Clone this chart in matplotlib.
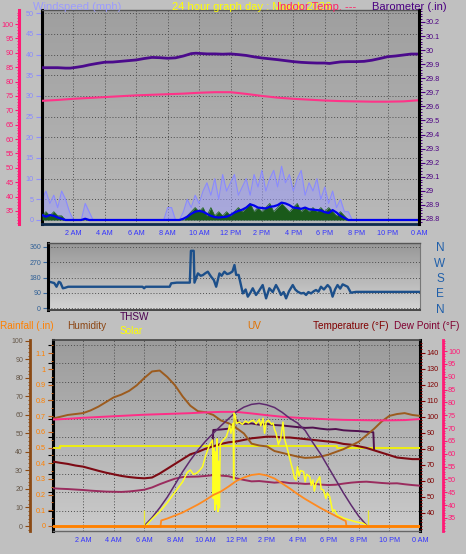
import numpy as np
import matplotlib
matplotlib.use("Agg")
import matplotlib.pyplot as plt
from matplotlib.ticker import MultipleLocator, FixedLocator, FuncFormatter
from matplotlib.colors import LinearSegmentedColormap

plt.rcParams['font.family'] = ['Liberation Sans', 'DejaVu Sans']

# ---------------- data ----------------
hour_ticks = [2, 4, 6, 8, 10, 12, 14, 16, 18, 20, 22, 24]
hour_labels = ['2 AM', '4 AM', '6 AM', '8 AM', '10 AM', '12 PM', '2 PM', '4 PM',
               '6 PM', '8 PM', '10 PM', '0 AM']

# wind (mph), every 15 minutes from 0:00 to 24:00
wind_hours = np.arange(0, 24.01, 0.25)
wind_gust = [5, 7, 4, 6, 3, 7, 5, 2, 0, 0, 0, 4, 2, 0, 0, 0, 0, 0, 0, 0,
             0, 0, 0, 0, 0, 0, 0, 0, 0, 0, 0, 0, 3, 3, 0, 0, 2, 5, 3, 6,
             4, 7, 9, 6, 10, 5, 11, 7, 9, 11, 6, 8, 10, 6, 11, 8, 12, 7, 10, 12,
             8, 13, 9, 11, 7, 10, 12, 6, 9, 7, 10, 5, 8, 4, 7, 3, 5, 2, 2, 0,
             0, 0, 0, 0, 0, 0, 0, 0, 0, 0, 0, 0, 0, 0, 0, 0, 0]
wind_speed = [1, 2, 1, 2, 1, 1, 0, 0, 0, 0, 0, 0, 0, 0, 0, 0, 0, 0, 0, 0,
              0, 0, 0, 0, 0, 0, 0, 0, 0, 0, 0, 0, 0, 0, 0, 0, 0, 1, 2, 3,
              2, 3, 1, 3, 1, 2, 1, 2, 1, 2, 3, 2, 3, 4, 2, 3, 2, 3, 4, 2,
              3, 4, 3, 2, 3, 4, 2, 3, 2, 3, 2, 3, 2, 3, 2, 1, 2, 1, 0, 0,
              0, 0, 0, 0, 0, 0, 0, 0, 0, 0, 0, 0, 0, 0, 0, 0, 0]
wind_avg = [1.2, 0.8, 1.2, 1.0, 0.6, 0.3, 0, 0, 0, 0, 0, 0.3, 0, 0, 0, 0, 0, 0, 0, 0,
            0, 0, 0, 0, 0, 0, 0, 0, 0, 0, 0, 0, 0, 0, 0, 0, 0.3, 0.8, 1.5, 2.0,
            2.2, 2.0, 1.5, 1.0, 0.7, 0.6, 0.7, 0.8, 1.2, 1.8, 2.2, 2.5, 3.0, 3.8, 3.5, 3.0,
            2.9, 2.8, 3.2, 3.3, 3.6, 4.2, 4.0, 3.6, 3.0, 2.9, 2.7, 3.0, 2.6, 2.5, 2.4, 2.3,
            1.9, 1.7, 2.4, 1.8, 1.0, 0.5, 0, 0, 0, 0, 0, 0, 0, 0, 0, 0, 0, 0,
            0, 0, 0, 0, 0, 0, 0]

baro_hours = [0, 1.0, 1.5, 1.8, 2.2, 2.6, 3.0, 3.5, 4.0, 4.5, 5.0, 5.5, 6.0, 6.5, 7.0,
              7.5, 8.0, 8.5, 9.0, 9.5, 9.8, 10.5, 11.0, 11.5, 12.0, 12.5, 13.0, 13.5,
              14.0, 14.5, 15.0, 15.5, 16.0, 16.5, 17.0, 17.5, 18.0, 18.3, 18.6, 19.0,
              19.5, 20.0, 20.5, 21.0, 21.5, 22.0, 22.5, 23.0, 23.5, 24.0]
baro_inhg = [29.875, 29.875, 29.872, 29.872, 29.878, 29.885, 29.895, 29.905, 29.914, 29.915,
             29.92, 29.925, 29.93, 29.94, 29.948, 29.946, 29.942, 29.945, 29.958, 29.975,
             29.978, 29.973, 29.973, 29.971, 29.973, 29.968, 29.962, 29.952, 29.944, 29.938,
             29.932, 29.925, 29.918, 29.913, 29.91, 29.908, 29.908, 29.905, 29.91, 29.916,
             29.918, 29.918, 29.92, 29.928, 29.94, 29.953, 29.958, 29.965, 29.972, 29.972]

indoor_hours = list(range(25))
indoor_temp = [73.3, 73.6, 74.0, 74.3, 74.6, 74.9, 75.2, 75.4, 75.6, 75.8, 76.1, 76.3, 76.3,
               75.7, 75.0, 74.4, 74.0, 73.7, 73.4, 73.2, 73.1, 73.0, 73.0, 73.1, 73.5]

dir_hours = [0, 0.1, 0.3, 0.4, 0.55, 0.7, 0.8, 0.96, 1.1, 1.3, 6.1, 6.2, 6.3, 7.85, 7.95,
             8.3, 9.15, 9.22, 9.3, 9.4, 9.45, 9.67, 9.85, 9.99, 10.15, 10.31, 10.52, 10.7,
             10.85, 11.06, 11.2, 11.38, 11.55, 11.71, 11.9, 12.03, 12.14, 12.3, 12.57, 12.75,
             12.89, 13.05, 13.21, 13.42, 13.6, 13.85, 14.07, 14.28, 14.5, 14.71, 14.87, 15.03,
             15.2, 15.36, 15.55, 15.79, 15.95, 16.11, 16.33, 16.5, 16.65, 16.8, 16.97, 17.15,
             17.29, 17.45, 17.61, 17.8, 18.04, 18.2, 18.36, 18.52, 18.68, 18.85, 19.01, 19.33,
             19.54, 19.87, 24]
dir_deg = [150, 155, 150, 148, 126, 155, 150, 117, 120, 126, 126, 117, 126, 126, 146,
           150, 150, 336, 336, 336, 150, 204, 190, 194, 205, 214, 185, 165,
           126, 204, 190, 214, 200, 204, 215, 253, 195, 195, 87, 110,
           68, 90, 117, 78, 100, 136, 58, 117, 95, 136, 110, 78,
           95, 58, 100, 136, 110, 97, 87, 90, 78, 95, 87, 100,
           107, 97, 126, 110, 136, 120, 68, 110, 136, 115, 140, 126,
           91, 96, 96]
dir_ticks = [0, 90, 180, 270, 360]
dir_names = ['N', 'E', 'S', 'W', 'N']

half_hours = np.arange(0, 24.01, 0.5)
humidity = [58, 59, 60, 60.5, 61, 62.5, 64.5, 67, 69.5, 71,
            73, 76, 80, 83.5, 84, 80.5, 76, 70, 65, 62,
            61.5, 60, 57, 55.5, 53, 50, 44.5, 43.5, 43, 40.5,
            39.5, 38.5, 37.5, 36.8, 37, 37.5, 38.5, 40, 41.5, 43.5,
            45.5, 49, 52.5, 56.5, 59.5, 60.5, 61, 60, 59.5]
temperature = [72, 71.2, 70.5, 69.5, 68.8, 67.5, 66.2, 65, 64, 63,
               62.3, 61.8, 61.5, 62, 64.5, 67.5, 70.5, 73.5, 76.5, 78,
               80, 81.5, 83, 84, 84.5, 85.5, 86.5, 87, 87.5, 87.5,
               87, 87, 86.5, 86, 85.5, 85, 84.5, 84, 83, 82.5,
               81.5, 80.5, 79, 77.5, 76, 74.5, 74, 73.5, 73.5]
dew_point = [55.3, 55, 54.8, 54.5, 54.2, 53.8, 53.5, 53.2, 53.1, 53,
             53.3, 53.8, 54.4, 55.8, 57.8, 59.6, 61.3, 62.3, 62.5, 62.6,
             63, 63.5, 63.2, 62.8, 61.5, 60.5, 59.6, 59.8, 59.3, 58.8,
             59.2, 58.5, 58.4, 58, 58.2, 57.6, 57.3, 57.5, 58.2, 58.8,
             59.2, 59.4, 59, 58.6, 58.3, 58.4, 57.8, 57.3, 56.9]

thsw_hours = [10.45, 10.5, 11.0, 11.5, 11.85, 11.9, 12.2, 12.5, 13.0, 13.5, 14.0, 14.5, 15.0,
              15.5, 16.0, 16.5, 17.0, 17.5, 18.0, 18.5, 19.0, 19.5, 20.0, 20.5, 20.95, 21.0]
thsw_f = [81.5, 91.7, 92.0, 92.5, 93.0, 99.0, 96.0, 95.5, 95.8, 95.0, 95.5, 94.8, 94.5,
          94.0, 93.5, 93.0, 93.2, 92.5, 92.0, 92.3, 91.5, 91.2, 91.0, 90.6, 90.3, 79.5]

ref_hours = [0, 0.5, 0.5, 18.6, 18.6, 24]
ref_vals = [80.3, 80.3, 81.9, 81.9, 80.4, 80.4]

solar_hours = [0, 5.9, 6.1, 6.5, 7.0, 7.5, 8.0, 8.5, 8.8, 9.0,
               9.2, 9.4, 9.6, 9.8, 10.0, 10.25, 10.45, 10.5, 10.55, 10.6,
               10.65, 10.7, 10.75, 10.8, 10.85, 10.9, 10.95, 11.1, 11.35, 11.5,
               11.57, 11.65, 11.75, 11.8, 11.83, 11.86, 11.95, 12.0, 12.2, 12.4,
               12.6, 12.8, 12.9, 13.1, 13.3, 13.5, 13.6, 13.75, 13.85, 13.95,
               14.1, 14.3, 14.4, 14.5, 14.6, 14.75, 14.9, 15.05, 15.15, 15.3,
               15.45, 15.6, 15.7, 15.8, 15.9, 16.0, 16.1, 16.2, 16.4, 16.5,
               16.6, 16.8, 16.9, 17.0, 17.1, 17.2, 17.45, 17.55, 17.7, 17.85,
               17.95, 18.1, 18.2, 18.3, 18.4, 18.6, 18.8, 19.0, 19.4, 19.8,
               20.3, 20.6, 24]
solar_wm2 = [0, 0, 5, 40, 80, 128, 185, 240, 290, 303,
             280, 285, 300, 321, 380, 437, 464, 150, 420, 88,
             400, 120, 470, 80, 350, 100, 440, 460, 481, 520,
             544, 500, 540, 553, 249, 608, 590, 553, 560, 548,
             565, 555, 562, 570, 550, 575, 540, 580, 500, 560,
             570, 548, 555, 520, 500, 440, 470, 560, 470, 428,
             380, 330, 300, 260, 249, 320, 270, 300, 294, 240,
             280, 267, 220, 250, 190, 230, 267, 200, 196, 150,
             180, 160, 120, 79, 90, 60, 53, 45, 35, 25,
             17, 0, 0]
maxsolar_hours = [5.95, 6.5, 7.0, 7.5, 8.0, 8.5, 9.0, 9.5, 10.0, 10.5, 11.0, 11.5, 12.0,
                  12.5, 13.0, 13.5, 14.0, 14.5, 15.0, 15.5, 16.0, 16.5, 17.0, 17.5, 18.0,
                  18.5, 19.0, 19.5, 20.0, 20.5, 20.6]
maxsolar_wm2 = [0, 48, 100, 158, 225, 294, 355, 410, 458, 500, 540, 578, 615,
                640, 655, 660, 652, 638, 612, 580, 555, 515, 450, 390, 320,
                250, 180, 115, 55, 8, 0]
sun_hours = [5.95, 20.6]
sun_mark = [88, 88]

uv_hours = [0, 7.05, 7.1, 7.5, 8.0, 8.5, 9.0, 9.5, 10.0, 10.5, 11.0, 11.5, 12.0, 12.5, 13.0,
            13.5, 14.0, 14.5, 15.0, 15.5, 16.0, 16.5, 17.0, 17.5, 18.0, 18.5, 19.0, 19.15, 19.2, 24]
uv_index = [0, 0, 1.2, 1.6, 2.2, 2.8, 3.6, 4.4, 5.3, 6.3, 7.0, 8.0, 9.1, 9.8, 10.3,
            10.5, 10.2, 9.6, 8.6, 7.6, 6.5, 5.5, 4.6, 3.7, 2.9, 2.1, 1.3, 1.1, 0, 0]

rain_hours = [0, 24]
rain_in = [0, 0]

temp_ticks = [40, 50, 60, 70, 80, 90, 100, 110, 120, 130, 140]
indoor_ticks = [35, 40, 45, 50, 55, 60, 65, 70, 75, 80, 85, 90, 95, 100]

# ---------------- layout helpers ----------------
W, H = 466, 554
fig = plt.figure(figsize=(W / 100, H / 100), dpi=100)
fig.patch.set_facecolor('#c0c0c0')


def rect(x0, y0, x1, y1):
    return [x0 / W, 1 - y1 / H, (x1 - x0) / W, (y1 - y0) / H]


def pt(p):
    return p * 0.72


def gradient(ax, top, bottom):
    cmap = LinearSegmentedColormap.from_list('g', [bottom, top])
    grad = np.linspace(0, 1, 256).reshape(-1, 1)
    ax.imshow(grad, extent=[0, 1, 0, 1], transform=ax.transAxes, origin='lower',
              aspect='auto', cmap=cmap, zorder=0, interpolation='bilinear')


def only_spines(ax, keep=()):
    for k, s in ax.spines.items():
        s.set_visible(k in keep)


def fmt_g(v, p):
    s = f'{v:.1f}'
    return s[:-2] if s.endswith('.0') else s


GRID = dict(color='#4d4d4d', linestyle=(0, (1, 2)), linewidth=0.7)
TICK_FS = 5.2

# ---------------- panel 1 : wind / barometer / indoor temp ----------------
ax1 = fig.add_axes(rect(42, 10, 419, 224))
gradient(ax1, '#9f9f9f', '#b9b9b9')
ax1.set_xlim(0, 24)
ax1.set_ylim(-0.97, 50.8)
ax1.set_axisbelow(True)
ax1.xaxis.set_major_locator(FixedLocator(hour_ticks))
ax1.set_xticklabels(hour_labels)
ax1.tick_params(axis='x', length=0, pad=pt(6), labelsize=TICK_FS, labelcolor='#3333ff')
ax1.yaxis.set_major_locator(MultipleLocator(5))
ax1.tick_params(axis='y', length=pt(6), width=0.8, color='#9090ff', labelcolor='#8888ff',
                labelsize=TICK_FS, pad=pt(2))
ax1.grid(True, **GRID)
ax1.spines['left'].set(color='black', linewidth=2.2)
ax1.spines['right'].set_visible(False)
ax1.spines['top'].set(color='#555555', linewidth=1)
ax1.spines['bottom'].set(color='#0d2a4d', linewidth=2)

ax1.fill_between(wind_hours, 0, wind_gust, color='#9a9aff', alpha=0.5, lw=0, zorder=2)
ax1.plot(wind_hours, wind_gust, color='#8a8aff', lw=0.8, zorder=2)
ax1.fill_between(wind_hours, 0, wind_speed, color='#1a5a1a', lw=0, zorder=3)
ax1.plot(wind_hours, wind_speed, color='#2a6a2a', lw=0.6, zorder=3)
ax1.plot(wind_hours, wind_avg, color='#0000ee', lw=1.6, zorder=4)

axp = ax1.twinx()
axp.set_ylim(30.48, 104.87)
only_spines(axp, ('left',))
axp.spines['left'].set_position(('axes', -23 / 377))
axp.spines['left'].set(color='#ff1a75', linewidth=2.2)
axp.yaxis.set_ticks_position('left')
axp.yaxis.set_label_position('left')
axp.yaxis.set_major_locator(MultipleLocator(5))
axp.yaxis.set_minor_locator(MultipleLocator(1))
axp.tick_params(which='major', length=pt(4), width=0.8, color='#ff1a75', labelcolor='#ff1a75',
                labelsize=TICK_FS, pad=pt(1))
axp.tick_params(which='minor', length=pt(2), width=0.7, color='#ff1a75')
axp.plot(indoor_hours, indoor_temp, color='#ff3388', lw=1.5)

axb = ax1.twinx()
axb.set_ylim(28.764, 30.285)
only_spines(axb, ('right',))
axb.spines['right'].set(color='black', linewidth=2.2)
axb.yaxis.set_major_locator(MultipleLocator(0.1))
axb.yaxis.set_minor_locator(MultipleLocator(0.02))
axb.yaxis.set_major_formatter(FuncFormatter(fmt_g))
axb.tick_params(which='major', length=pt(6), width=0.8, color='#4b0082', labelcolor='#4b0082',
                labelsize=TICK_FS, pad=pt(1))
axb.tick_params(which='minor', length=pt(3), width=0.7, color='#4b0082')
axb.plot(baro_hours, baro_inhg, color='#4b0a8c', lw=2.0)

# ---------------- panel 2 : wind direction ----------------
ax2 = fig.add_axes(rect(48, 243, 420, 310))
gradient(ax2, '#979797', '#d4d4d4')
ax2.set_xlim(0, 24)
ax2.set_ylim(-9.9, 381.6)
ax2.set_axisbelow(True)
ax2.set_xticks([])
ax2.set_yticks(dir_ticks)
ax2.tick_params(axis='y', length=pt(5), width=0.8, color='#3a6aa0', labelcolor='#2f5f96',
                labelsize=5, pad=pt(2))
ax2.grid(True, axis='y', **GRID)
ax2.spines['left'].set(color='black', linewidth=2.2)
ax2.spines['right'].set(color='#777777', linewidth=0.8)
ax2.spines['top'].set(color='#555555', linewidth=1)
ax2.spines['bottom'].set(color='#333333', linewidth=1.2)
ax2.plot(dir_hours, dir_deg, color='#1c4f8a', lw=1.7)

axc = ax2.twinx()
axc.set_ylim(-9.9, 381.6)
only_spines(axc)
axc.set_yticks(dir_ticks)
axc.set_yticklabels(dir_names)
axc.tick_params(axis='y', length=0, labelsize=8.5, labelcolor='#1f5faa', pad=pt(20))
for t in axc.get_yticklabels():
    t.set_horizontalalignment('center')

# ---------------- panel 3 : climate ----------------
x0_3 = 52.5
ax3 = fig.add_axes(rect(x0_3, 340, 420, 531))
gradient(ax3, '#9b9b9b', '#cbcbcb')
ax3.set_xlim(0, 24)
ax3.set_ylim(-0.109, 10.27)
ax3.set_axisbelow(True)
ax3.set_yticks([1, 2, 3, 4, 5, 6, 7, 8, 9, 10])
ax3.tick_params(axis='y', left=False, labelleft=False)
ax3.xaxis.set_major_locator(FixedLocator(hour_ticks))
ax3.set_xticklabels(hour_labels)
ax3.tick_params(axis='x', length=0, pad=pt(6), labelsize=TICK_FS, labelcolor='#3333ff')
ax3.grid(True, **GRID)
ax3.spines['left'].set(color='black', linewidth=2.2)
ax3.spines['right'].set(color='black', linewidth=2.2)
ax3.spines['top'].set(color='#444444', linewidth=1.2)
ax3.spines['bottom'].set(color='#666666', linewidth=1)

pw = 420 - x0_3

# temperature axis (right, dark red)
axt = ax3.twinx()
axt.set_ylim(28.6, 147.9)
only_spines(axt)
axt.yaxis.set_major_locator(FixedLocator(temp_ticks))
axt.yaxis.set_minor_locator(MultipleLocator(2))
axt.tick_params(which='major', length=pt(5), width=0.8, color='#800000', labelcolor='#800000',
                labelsize=TICK_FS, pad=pt(1.5))
axt.tick_params(which='minor', length=pt(2.5), width=0.7, color='#800000')
axt.plot(ref_hours, ref_vals, color='#eeee10', lw=1.4)
axt.plot(half_hours, dew_point, color='#9a2c5e', lw=1.4)
axt.plot(thsw_hours, thsw_f, color='#50104e', lw=1.4)
axt.plot(half_hours, temperature, color='#7d0a14', lw=1.5)

# humidity axis (left, outward, brown)
axh = ax3.twinx()
axh.set_ylim(-2.7, 100.5)
only_spines(axh, ('left',))
axh.spines['left'].set_position(('axes', -(x0_3 - 30) / pw))
axh.spines['left'].set(color='#8b4a14', linewidth=2)
axh.yaxis.set_ticks_position('left')
axh.yaxis.set_label_position('left')
axh.yaxis.set_major_locator(MultipleLocator(10))
axh.yaxis.set_minor_locator(MultipleLocator(2))
axh.tick_params(which='major', length=pt(5), width=0.8, color='#8b4a14', labelcolor='#66584a',
                labelsize=5, pad=pt(2))
axh.tick_params(which='minor', length=pt(2.5), width=0.7, color='#8b4a14')
axh.plot(half_hours, humidity, color='#9c5b1e', lw=1.4)

# indoor temperature axis (far right, pink)
axd = ax3.twinx()
axd.set_ylim(29.9, 104.3)
only_spines(axd, ('right',))
axd.spines['right'].set_position(('axes', 1 + 23 / pw))
axd.spines['right'].set(color='#ff1a75', linewidth=2)
axd.yaxis.set_major_locator(FixedLocator(indoor_ticks))
axd.yaxis.set_minor_locator(MultipleLocator(1))
axd.tick_params(which='major', length=pt(4), width=0.8, color='#ff1a75', labelcolor='#ff1a75',
                labelsize=TICK_FS, pad=pt(1))
axd.tick_params(which='minor', length=pt(2), width=0.7, color='#ff1a75')
axd.plot(indoor_hours, indoor_temp, color='#ff2d86', lw=1.4)

# solar (hidden scale)
axs = ax3.twinx()
axs.set_ylim(-24.1, 1000)
axs.axis('off')
axs.plot(maxsolar_hours, maxsolar_wm2, color='#5e2a6e', lw=1.1)
axs.plot(solar_hours, solar_wm2, color='#ffff20', lw=1.1)
axs.vlines(sun_hours, 0, sun_mark, color='#e8e830', lw=0.9)

# UV (hidden scale)
axu = ax3.twinx()
axu.set_ylim(-0.9, 37.3)
axu.axis('off')
axu.plot(uv_hours, uv_index, color='#ff8a20', lw=1.3)

# rainfall axis (left border, orange)
axr = ax3.twinx()
axr.set_ylim(-0.032, 1.185)
only_spines(axr)
axr.yaxis.set_ticks_position('left')
axr.yaxis.set_label_position('left')
axr.yaxis.set_major_locator(MultipleLocator(0.1))
axr.yaxis.set_minor_locator(MultipleLocator(0.05))
axr.yaxis.set_major_formatter(FuncFormatter(fmt_g))
axr.tick_params(which='major', length=pt(5), width=0.8, color='#c0601a', labelcolor='#ff8000',
                labelsize=TICK_FS, pad=pt(2))
axr.tick_params(which='minor', length=pt(2.5), width=0.7, color='#c0601a')
axr.plot(rain_hours, rain_in, color='#ff8000', lw=2)

# ---------------- header texts ----------------
def T(x, y, s, color, size=7.2, va='center'):
    fig.text(x / W, 1 - y / H, s, color=color, fontsize=size, ha='left', va=va)

T(33, 9.5, 'Windspeed (mph)', '#9b9bff', 8, va='baseline')
T(172, 9.5, '24 hour graph day : March 2026', '#ffff00', 8, va='baseline')
T(277, 9.5, 'Indoor Temp. ---', '#ff2266', 8, va='baseline')
T(372, 9.5, 'Barometer (.in)', '#4b0082', 8, va='baseline')

T(0, 326, 'Rainfall (.in)', '#ff8000')
T(67, 326, 'Humidity', '#8b4513')
T(120, 317, 'THSW', '#4b0050')
T(120, 331, 'Solar', '#ffff00')
T(247, 326, 'UV', '#e07000')
T(313, 326, 'Temperature (°F)', '#800000')
T(394, 326, 'Dew Point (°F)', '#800030')

fig.savefig('out.png', dpi=100, facecolor=fig.get_facecolor())
